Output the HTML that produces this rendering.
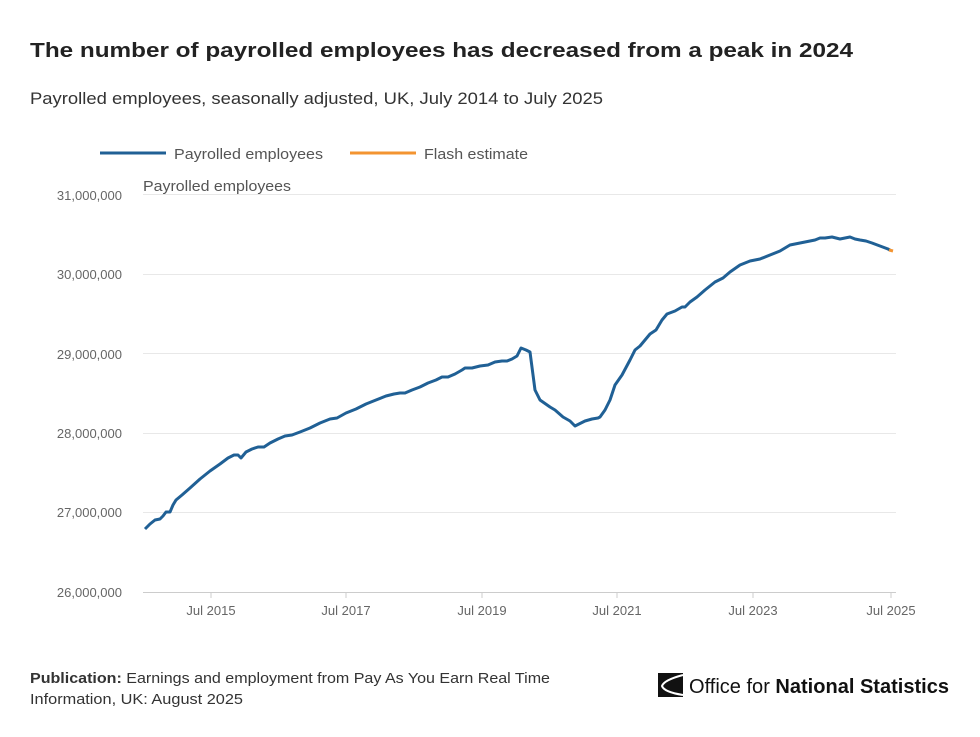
<!DOCTYPE html>
<html><head><meta charset="utf-8"><style>
body{margin:0;background:#fff;font-family:"Liberation Sans",sans-serif;}
</style></head><body>
<svg width="980" height="737" xmlns="http://www.w3.org/2000/svg" style="display:block">
<text x="30" y="57" font-size="20" font-weight="bold" fill="#222" textLength="823" lengthAdjust="spacingAndGlyphs">The number of payrolled employees has decreased from a peak in 2024</text>
<text x="30" y="104" font-size="16.5" fill="#333" textLength="573" lengthAdjust="spacingAndGlyphs">Payrolled employees, seasonally adjusted, UK, July 2014 to July 2025</text>
<line x1="100" y1="153" x2="166" y2="153" stroke="#206095" stroke-width="3"/>
<text x="174" y="159" font-size="14.5" fill="#555" textLength="149" lengthAdjust="spacingAndGlyphs">Payrolled employees</text>
<line x1="350" y1="153" x2="416" y2="153" stroke="#f39431" stroke-width="3"/>
<text x="424" y="159" font-size="14.5" fill="#555" textLength="104" lengthAdjust="spacingAndGlyphs">Flash estimate</text>
<text x="143" y="191" font-size="14.5" fill="#555" textLength="148" lengthAdjust="spacingAndGlyphs">Payrolled employees</text>
<g stroke="#e8e8e8" stroke-width="1">
<line x1="143" y1="194.5" x2="896" y2="194.5"/><line x1="143" y1="274.5" x2="896" y2="274.5"/>
<line x1="143" y1="353.5" x2="896" y2="353.5"/><line x1="143" y1="433.5" x2="896" y2="433.5"/>
<line x1="143" y1="512.5" x2="896" y2="512.5"/></g>
<line x1="143" y1="592.5" x2="896" y2="592.5" stroke="#ccc"/>
<g stroke="#ccc"><line x1="211" y1="592" x2="211" y2="598"/><line x1="346" y1="592" x2="346" y2="598"/><line x1="482" y1="592" x2="482" y2="598"/><line x1="617" y1="592" x2="617" y2="598"/><line x1="753" y1="592" x2="753" y2="598"/><line x1="891" y1="592" x2="891" y2="598"/></g>
<g font-size="13" fill="#666" text-anchor="end">
<text x="122" y="200">31,000,000</text><text x="122" y="279">30,000,000</text><text x="122" y="359">29,000,000</text><text x="122" y="438">28,000,000</text><text x="122" y="517">27,000,000</text><text x="122" y="597">26,000,000</text></g>
<g font-size="13" fill="#666" text-anchor="middle">
<text x="211" y="615">Jul 2015</text><text x="346" y="615">Jul 2017</text><text x="482" y="615">Jul 2019</text><text x="617" y="615">Jul 2021</text><text x="753" y="615">Jul 2023</text><text x="891" y="615">Jul 2025</text></g>
<polyline fill="none" stroke="#206095" stroke-width="3" stroke-linejoin="round" points="145,529 150,524 155,520 160,519 163,516 166,512 170,512 173,505 176,500 182,495 190,488 200,479 210,471 220,464 228,458 234,455 238,455 241,458 246,452 252,449 258,447 264,447 270,443 278,439 285,436 292,435 300,432 310,428 320,423 330,419 337,418 346,413 356,409 366,404 376,400 386,396 394,394 400,393 405,393 412,390 420,387 428,383 436,380 442,377 448,377 455,374 462,370 465,368 472,368 480,366 488,365 495,362 502,361 507,361 512,359 517,356 521,348 526,350 530,352 535,390 540,400 550,407 555,410 563,417 570,421 575,426 585,421 592,419 598,418 600,417 605,410 610,400 615,385 622,375 630,360 635,350 640,346 645,340 650,334 656,330 662,320 667,314 675,311 682,307 685,307 690,302 697,297 705,290 715,282 723,278 730,272 740,265 750,261 760,259 770,255 780,251 790,245 800,243 810,241 815,240 820,238 825,238 832,237 840,239 845,238 850,237 855,239 860,240 866,241 872,243 880,246 888,249 890,250"/>
<line x1="889" y1="250" x2="893" y2="251" stroke="#f39431" stroke-width="3"/>
<text x="30" y="683" font-size="14.5" fill="#333" textLength="520" lengthAdjust="spacingAndGlyphs"><tspan font-weight="bold">Publication:</tspan> Earnings and employment from Pay As You Earn Real Time</text>
<text x="30" y="704" font-size="14.5" fill="#333" textLength="213" lengthAdjust="spacingAndGlyphs">Information, UK: August 2025</text>
<path d="M658 673 L683 673 L683 697 L658 697 Z" fill="#111"/>
<path d="M683 675 Q664 680 662 686 Q664 692 683 695" fill="none" stroke="#fff" stroke-width="2"/>
<text x="689" y="693" font-size="20" fill="#111" textLength="260" lengthAdjust="spacingAndGlyphs">Office for <tspan font-weight="bold">National Statistics</tspan></text>
</svg>
</body></html>
